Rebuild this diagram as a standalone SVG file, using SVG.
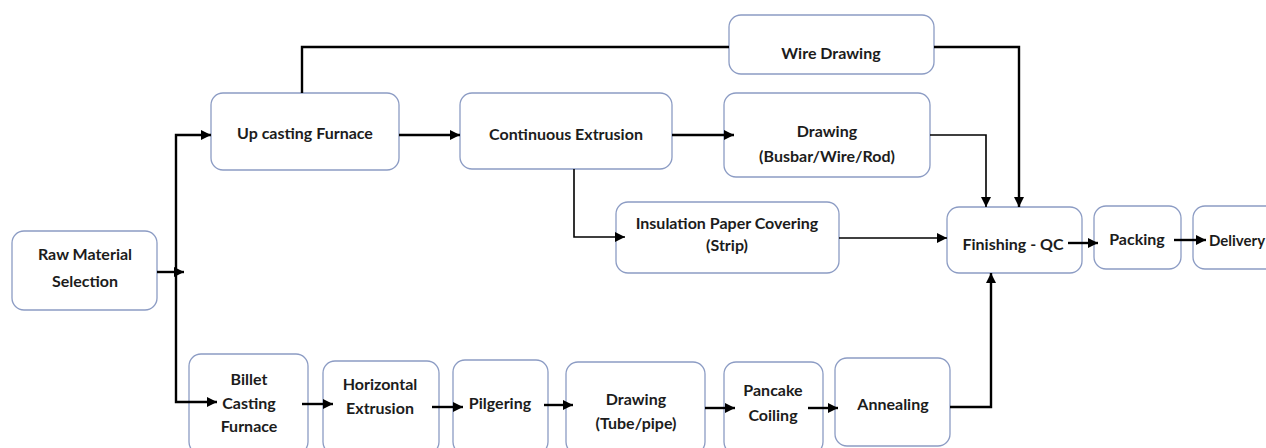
<svg xmlns="http://www.w3.org/2000/svg" width="1266" height="448" viewBox="0 0 1266 448">
<style>
.box{fill:#ffffff;stroke:#8c9cc4;stroke-width:1.3}
.t{font-family:Lato,"Open Sans","Liberation Sans",sans-serif;font-weight:bold;font-size:16px;fill:#1c1c1c;text-anchor:middle;dominant-baseline:central}
.c{fill:none;stroke:#000;stroke-width:2.4;stroke-linejoin:miter}
.thin{stroke-width:1.6}
</style>
<defs>
<marker id="ah" markerUnits="userSpaceOnUse" markerWidth="10" markerHeight="10" viewBox="0 0 10 10" refX="10" refY="5" orient="auto">
<path d="M0,0 L10,5 L0,10 z" fill="#000"/>
</marker>
</defs>
<rect width="1266" height="448" fill="#ffffff"/>
<g id="raw"><rect class="box" x="12" y="231" width="145" height="79" rx="12"/><text class="t" x="85" y="253">Raw Material</text><text class="t" x="85" y="280">Selection</text></g>
<g id="upcast"><rect class="box" x="211" y="93" width="188" height="77" rx="12"/><text class="t" x="305" y="132">Up casting Furnace</text></g>
<g id="wire"><rect class="box" x="729" y="15" width="205" height="59" rx="12"/><text class="t" x="831" y="52">Wire Drawing</text></g>
<g id="contex"><rect class="box" x="460" y="93" width="212" height="76" rx="12"/><text class="t" x="566" y="133">Continuous Extrusion</text></g>
<g id="drawbus"><rect class="box" x="724" y="93" width="206" height="84" rx="12"/><text class="t" x="827" y="130">Drawing</text><text class="t" x="827" y="155">(Busbar/Wire/Rod)</text></g>
<g id="insul"><rect class="box" x="616" y="202" width="223" height="71" rx="12"/><text class="t" x="727" y="222">Insulation Paper Covering</text><text class="t" x="727" y="244">(Strip)</text></g>
<g id="finish"><rect class="box" x="947" y="207" width="135" height="66" rx="12"/><text class="t" x="1013" y="243">Finishing - QC</text></g>
<g id="packing"><rect class="box" x="1094" y="206" width="87" height="63" rx="12"/><text class="t" x="1137" y="238">Packing</text></g>
<g id="delivery"><rect class="box" x="1193" y="206" width="110" height="63" rx="12"/><text class="t" x="1209" y="240" style="text-anchor:start;font-size:15px">Delivery</text></g>
<g id="billet"><rect class="box" x="189" y="354" width="119" height="100" rx="12"/><text class="t" x="249" y="378">Billet</text><text class="t" x="249" y="402">Casting</text><text class="t" x="249" y="425">Furnace</text></g>
<g id="horiz"><rect class="box" x="323" y="361" width="116" height="93" rx="12"/><text class="t" x="380" y="383">Horizontal</text><text class="t" x="380" y="407">Extrusion</text></g>
<g id="pilger"><rect class="box" x="453" y="360" width="95" height="94" rx="12"/><text class="t" x="500" y="402">Pilgering</text></g>
<g id="drawtube"><rect class="box" x="566" y="362" width="139" height="92" rx="12"/><text class="t" x="636" y="398">Drawing</text><text class="t" x="636" y="422">(Tube/pipe)</text></g>
<g id="pancake"><rect class="box" x="724" y="362" width="99" height="92" rx="12"/><text class="t" x="773" y="389">Pancake</text><text class="t" x="773" y="414">Coiling</text></g>
<g id="anneal"><rect class="box" x="835" y="358" width="115" height="88" rx="12"/><text class="t" x="893" y="403">Annealing</text></g>
<g id="connectors">
<path class="c" d="M157,272 H184" marker-end="url(#ah)"/>
<path class="c" d="M176,272 V135 H211" marker-end="url(#ah)"/>
<path class="c" d="M176,272 V402 H217" marker-end="url(#ah)"/>
<path class="c" d="M302,93 V47 H729"/>
<path class="c" d="M934,47 H1019 V207" marker-end="url(#ah)"/>
<path class="c" d="M399,135 H460" marker-end="url(#ah)"/>
<path class="c" d="M672,135 H734" marker-end="url(#ah)"/>
<path class="c thin" d="M930,135 H986 V207" marker-end="url(#ah)"/>
<path class="c thin" d="M574,169 V237 H625" marker-end="url(#ah)"/>
<path class="c thin" d="M839,238 H947" marker-end="url(#ah)"/>
<path class="c" d="M1068,243 H1098" marker-end="url(#ah)"/>
<path class="c" d="M1174,240 H1206" marker-end="url(#ah)"/>
<path class="c" d="M302,404 H333" marker-end="url(#ah)"/>
<path class="c" d="M432,407 H463" marker-end="url(#ah)"/>
<path class="c" d="M544,405 H573" marker-end="url(#ah)"/>
<path class="c" d="M705,408 H735" marker-end="url(#ah)"/>
<path class="c" d="M808,408 H838" marker-end="url(#ah)"/>
<path class="c" d="M950,407 H991 V273" marker-end="url(#ah)"/>
</g>
</svg>
